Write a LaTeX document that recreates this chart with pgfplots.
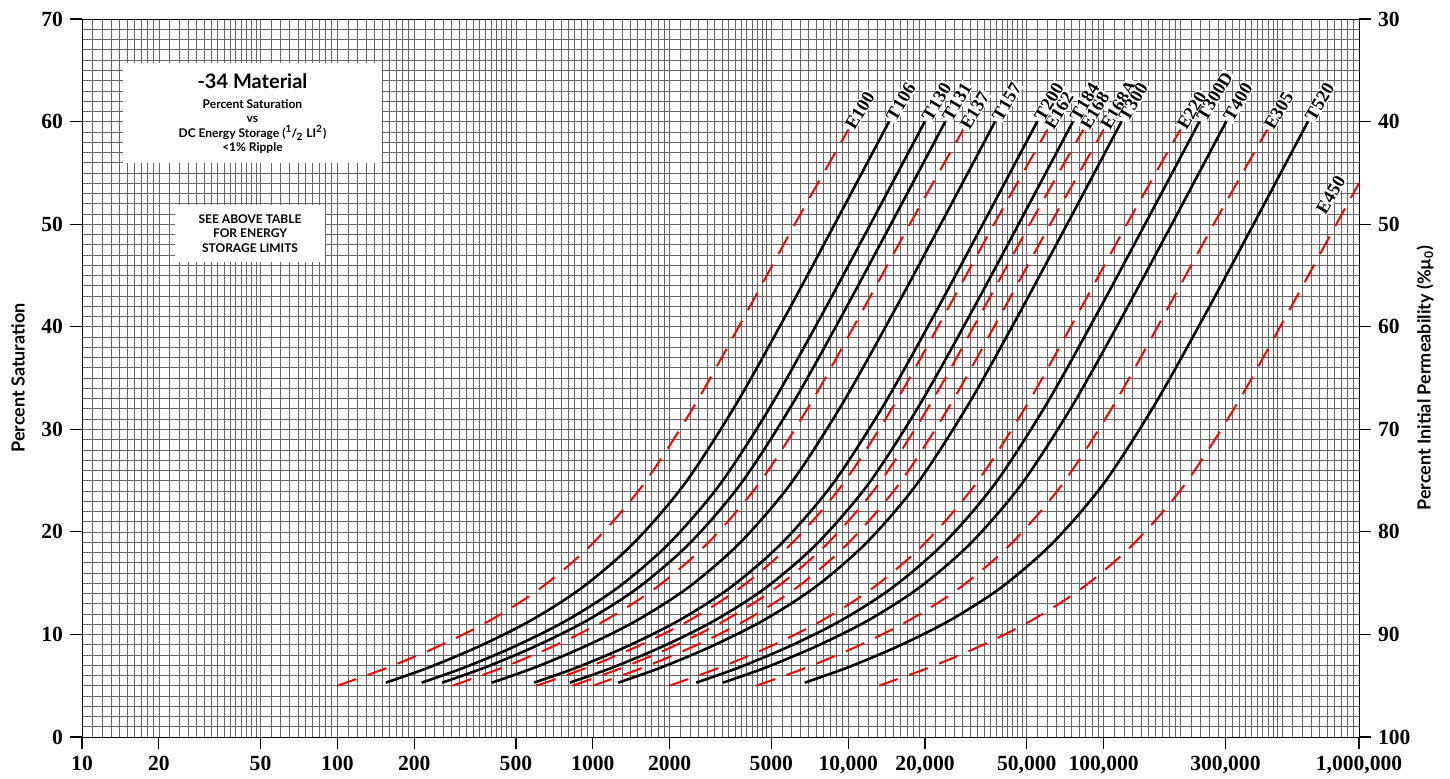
\documentclass[border=0pt]{standalone}
\usepackage{fontspec}
\setmainfont{Liberation Serif}
\newfontfamily\sans{Lato}
\usepackage{pgfplots}
\pgfplotsset{compat=1.18}
\pgfplotsset{
  ecurve/.style={red, line width=1pt, dash pattern=on 10pt off 6pt, smooth},
  tcurve/.style={black, line width=1.3pt, smooth},
}
\tikzset{clab/.style={pos=1, anchor=west, rotate=59, fill=white, text=black, inner xsep=0.8pt, inner ysep=0.3pt, solid,
  font=\fontsize{9.2}{10}\selectfont\bfseries}}
\begin{document}
\begin{tikzpicture}
\useasboundingbox (-41pt,-20.5pt) rectangle (684pt,368.5pt);
\begin{axis}[
  at={(0,0)}, anchor=south west,
  width=638.5pt, height=359pt, scale only axis,
  xmode=log, log basis x=10,
  xmin=10, xmax=1000000, ymin=0, ymax=70,
  xtick={10,20,50,100,200,500,1000,2000,5000,10000,20000,50000,100000,300000,1000000},
  xticklabels={10,20,50,100,200,500,1000,2000,5000,{10,000},{20,000},{50,000},{100,000},{300,000},{1,000,000}},
  minor xtick={11,12,13,14,15,16,17,18,19,20,22,24,26,28,30,32,34,36,38,40,42,44,46,48,50,55,60,65,70,75,80,85,90,95,
    110,120,130,140,150,160,170,180,190,200,220,240,260,280,300,320,340,360,380,400,420,440,460,480,500,550,600,650,700,750,800,850,900,950,
    1100,1200,1300,1400,1500,1600,1700,1800,1900,2000,2200,2400,2600,2800,3000,3200,3400,3600,3800,4000,4200,4400,4600,4800,5000,5500,6000,6500,7000,7500,8000,8500,9000,9500,
    11000,12000,13000,14000,15000,16000,17000,18000,19000,20000,22000,24000,26000,28000,30000,32000,34000,36000,38000,40000,42000,44000,46000,48000,50000,55000,60000,65000,70000,75000,80000,85000,90000,95000,
    110000,120000,130000,140000,150000,160000,170000,180000,190000,200000,220000,240000,260000,280000,300000,320000,340000,360000,380000,400000,420000,440000,460000,480000,500000,550000,600000,650000,700000,750000,800000,850000,900000,950000},
  ytick={0,10,...,70},
  minor ytick={0,1,...,70},
  grid=both,
  major grid style={black!60, line width=0.3pt},
  minor grid style={black!60, line width=0.3pt},
  tick align=outside,
  major tick length=6pt,
  minor tick length=0pt,
  xtick pos=bottom, ytick pos=left,
  tick style={black, line width=0.6pt},
  axis line style={black, line width=0.5pt},
  ticklabel style={font=\fontsize{10.8}{12}\selectfont\bfseries},
  /pgf/number format/assume math mode=true,
  ylabel={\sans\bfseries\fontsize{9}{10}\selectfont Percent Saturation},
  every axis y label/.style={at={(axis description cs:-0.0501,0.5)}, rotate=90, anchor=center},
  clip=true,
]
% E100
\addplot[ecurve] table[x expr={10^\thisrow{lx}}, y=y, row sep=\\] {
lx y\\ 2.00 5.0\\ 2.20 6.8\\ 2.40 8.9\\ 2.60 11.4\\ 2.80 14.6\\ 3.00 18.9\\ 3.20 24.7\\ 3.40 32.4\\ 3.60 41.3\\ 3.80 50.4\\ 4.00 59.2\\
} node[clab] {E100};
% T106
\addplot[tcurve] table[x expr={10^\thisrow{lx}}, y=y, row sep=\\] {
lx y\\ 2.19 5.3\\ 2.36 6.8\\ 2.56 8.9\\ 2.76 11.4\\ 2.96 14.6\\ 3.16 18.9\\ 3.36 24.7\\ 3.56 32.4\\ 3.76 41.3\\ 3.96 50.6\\ 4.16 60.0\\
} node[clab] {T106};
% T130
\addplot[tcurve] table[x expr={10^\thisrow{lx}}, y=y, row sep=\\] {
lx y\\ 2.33 5.3\\ 2.50 6.8\\ 2.70 8.9\\ 2.90 11.4\\ 3.10 14.6\\ 3.30 18.9\\ 3.50 24.7\\ 3.70 32.4\\ 3.90 41.3\\ 4.10 50.6\\ 4.30 60.0\\
} node[clab] {T130};
% T131
\addplot[tcurve] table[x expr={10^\thisrow{lx}}, y=y, row sep=\\] {
lx y\\ 2.41 5.3\\ 2.58 6.8\\ 2.78 8.9\\ 2.98 11.4\\ 3.18 14.6\\ 3.38 18.9\\ 3.58 24.7\\ 3.78 32.4\\ 3.98 41.3\\ 4.18 50.6\\ 4.38 60.0\\
} node[clab] {T131};
% E137
\addplot[ecurve] table[x expr={10^\thisrow{lx}}, y=y, row sep=\\] {
lx y\\ 2.45 5.0\\ 2.65 6.8\\ 2.85 8.9\\ 3.05 11.4\\ 3.25 14.6\\ 3.45 18.9\\ 3.65 24.7\\ 3.85 32.4\\ 4.05 41.3\\ 4.25 50.4\\ 4.45 59.2\\
} node[clab] {E137};
% T157
\addplot[tcurve] table[x expr={10^\thisrow{lx}}, y=y, row sep=\\] {
lx y\\ 2.605 5.3\\ 2.775 6.8\\ 2.975 8.9\\ 3.175 11.4\\ 3.375 14.6\\ 3.575 18.9\\ 3.775 24.7\\ 3.975 32.4\\ 4.175 41.3\\ 4.375 50.6\\ 4.575 60.0\\
} node[clab] {T157};
% E162
\addplot[ecurve] table[x expr={10^\thisrow{lx}}, y=y, row sep=\\] {
lx y\\ 2.78 5.0\\ 2.98 6.8\\ 3.18 8.9\\ 3.38 11.4\\ 3.58 14.6\\ 3.78 18.9\\ 3.98 24.7\\ 4.18 32.4\\ 4.38 41.3\\ 4.58 50.4\\ 4.78 59.2\\
} node[clab] {E162};
% T200
\addplot[tcurve] table[x expr={10^\thisrow{lx}}, y=y, row sep=\\] {
lx y\\ 2.77 5.3\\ 2.94 6.8\\ 3.14 8.9\\ 3.34 11.4\\ 3.54 14.6\\ 3.74 18.9\\ 3.94 24.7\\ 4.14 32.4\\ 4.34 41.3\\ 4.54 50.6\\ 4.74 60.0\\
} node[clab] {T200};
% E168
\addplot[ecurve] table[x expr={10^\thisrow{lx}}, y=y, row sep=\\] {
lx y\\ 2.92 5.0\\ 3.12 6.8\\ 3.32 8.9\\ 3.52 11.4\\ 3.72 14.6\\ 3.92 18.9\\ 4.12 24.7\\ 4.32 32.4\\ 4.52 41.3\\ 4.72 50.4\\ 4.92 59.2\\
} node[clab] {E168};
% T184
\addplot[tcurve] table[x expr={10^\thisrow{lx}}, y=y, row sep=\\] {
lx y\\ 2.91 5.3\\ 3.08 6.8\\ 3.28 8.9\\ 3.48 11.4\\ 3.68 14.6\\ 3.88 18.9\\ 4.08 24.7\\ 4.28 32.4\\ 4.48 41.3\\ 4.68 50.6\\ 4.88 60.0\\
} node[clab] {T184};
% E168A
\addplot[ecurve] table[x expr={10^\thisrow{lx}}, y=y, row sep=\\] {
lx y\\ 3.00 5.0\\ 3.20 6.8\\ 3.40 8.9\\ 3.60 11.4\\ 3.80 14.6\\ 4.00 18.9\\ 4.20 24.7\\ 4.40 32.4\\ 4.60 41.3\\ 4.80 50.4\\ 5.00 59.2\\
} node[clab] {E168A};
% T300
\addplot[tcurve] table[x expr={10^\thisrow{lx}}, y=y, row sep=\\] {
lx y\\ 3.10 5.3\\ 3.27 6.8\\ 3.47 8.9\\ 3.67 11.4\\ 3.87 14.6\\ 4.07 18.9\\ 4.27 24.7\\ 4.47 32.4\\ 4.67 41.3\\ 4.87 50.6\\ 5.07 60.0\\
} node[clab] {T300};
% E220
\addplot[ecurve] table[x expr={10^\thisrow{lx}}, y=y, row sep=\\] {
lx y\\ 3.30 5.0\\ 3.50 6.8\\ 3.70 8.9\\ 3.90 11.4\\ 4.10 14.6\\ 4.30 18.9\\ 4.50 24.7\\ 4.70 32.4\\ 4.90 41.3\\ 5.10 50.4\\ 5.30 59.2\\
} node[clab] {E220};
% T300D
\addplot[tcurve] table[x expr={10^\thisrow{lx}}, y=y, row sep=\\] {
lx y\\ 3.405 5.3\\ 3.575 6.8\\ 3.775 8.9\\ 3.975 11.4\\ 4.175 14.6\\ 4.375 18.9\\ 4.575 24.7\\ 4.775 32.4\\ 4.975 41.3\\ 5.175 50.6\\ 5.375 60.0\\
} node[clab] {T300D};
% T400
\addplot[tcurve] table[x expr={10^\thisrow{lx}}, y=y, row sep=\\] {
lx y\\ 3.51 5.3\\ 3.68 6.8\\ 3.88 8.9\\ 4.08 11.4\\ 4.28 14.6\\ 4.48 18.9\\ 4.68 24.7\\ 4.88 32.4\\ 5.08 41.3\\ 5.28 50.6\\ 5.48 60.0\\
} node[clab] {T400};
% E305
\addplot[ecurve] table[x expr={10^\thisrow{lx}}, y=y, row sep=\\] {
lx y\\ 3.64 5.0\\ 3.84 6.8\\ 4.04 8.9\\ 4.24 11.4\\ 4.44 14.6\\ 4.64 18.9\\ 4.84 24.7\\ 5.04 32.4\\ 5.24 41.3\\ 5.44 50.4\\ 5.64 59.2\\
} node[clab] {E305};
% T520
\addplot[tcurve] table[x expr={10^\thisrow{lx}}, y=y, row sep=\\] {
lx y\\ 3.83 5.3\\ 4.00 6.8\\ 4.20 8.9\\ 4.40 11.4\\ 4.60 14.6\\ 4.80 18.9\\ 5.00 24.7\\ 5.20 32.4\\ 5.40 41.3\\ 5.60 50.6\\ 5.80 60.0\\
} node[clab] {T520};
% E450
\addplot[ecurve] table[x expr={10^\thisrow{lx}}, y=y, row sep=\\] {
lx y\\ 4.12 5.0\\ 4.32 6.8\\ 4.52 8.9\\ 4.72 11.4\\ 4.92 14.6\\ 5.12 18.9\\ 5.32 24.7\\ 5.52 32.4\\ 5.72 41.3\\ 5.92 50.4\\ 6.00 54.0\\
};
\node[anchor=west, rotate=59, fill=white, text=black, inner xsep=0.8pt, inner ysep=0.3pt, font=\fontsize{9.2}{10}\selectfont\bfseries] at (axis cs:700000,51.0) {E450};
% title boxes
\fill[white] (axis cs:14.5,56.0) rectangle (axis cs:150,65.7);
\node[align=center, font=\sans\bfseries\fontsize{10}{12}\selectfont] at (axis cs:46.5,63.95) {-34 Material};
\node[align=center, font=\sans\bfseries\fontsize{6}{7.2}\selectfont] at (axis cs:46.5,59.5)
  {Percent Saturation\\vs\\DC Energy Storage (\textsuperscript{1}\kern-.05em/\kern-.05em\textsubscript{2} LI\textsuperscript{2})\\<1\% Ripple};
\fill[white] (axis cs:23.1,46.3) rectangle (axis cs:89.3,51.9);
\node[align=center, font=\sans\bfseries\fontsize{6}{7.3}\selectfont] at (axis cs:45.5,49.1)
  {SEE ABOVE TABLE\\FOR ENERGY\\STORAGE LIMITS};
\end{axis}
\begin{axis}[
  at={(0,0)}, anchor=south west,
  width=638.5pt, height=359pt, scale only axis,
  xmin=0, xmax=1, ymin=0, ymax=70,
  axis y line*=right, hide x axis,
  ytick={0,10,...,70},
  yticklabels={100,90,80,70,60,50,40,30},
  tick align=outside, major tick length=6pt,
  tick style={black, line width=0.6pt},
  axis line style={black, line width=0.5pt},
  ticklabel style={font=\fontsize{10.8}{12}\selectfont\bfseries},
  ylabel={\sans\bfseries\fontsize{9}{10}\selectfont Percent Initial Permeability (\%µ\textsubscript{0})},
  every axis y label/.style={at={(axis description cs:1.0517,0.5)}, rotate=90, anchor=center},
]
\end{axis}
\end{tikzpicture}
\end{document}
